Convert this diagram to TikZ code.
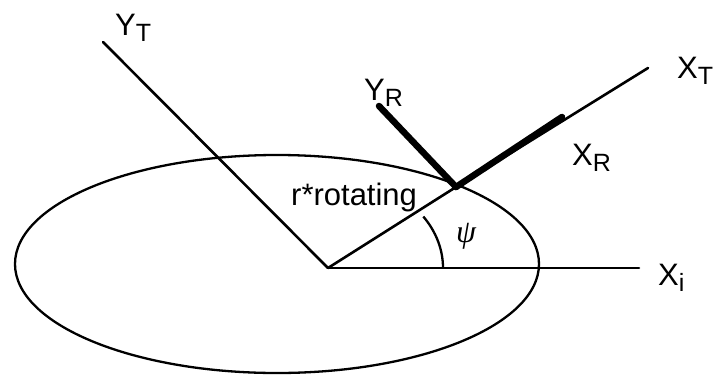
\documentclass[tikz,border=0pt]{standalone}
\usepackage{fontspec}
\setmainfont{Liberation Sans}
\newfontfamily\grk{Liberation Serif}
\usetikzlibrary{calc, positioning}

\tikzset{
  axis/.style={line width=2.6pt, line cap=round},
  rotor/.style={line width=6.5pt, line cap=round},
  lbl/.style={inner sep=0pt, anchor=base west, font=\fontsize{31}{31}\selectfont}
}
\newcommand{\ax}[2]{#1\raisebox{-6pt}{\fontsize{25}{25}\selectfont #2}}

\begin{document}
\begin{tikzpicture}[x=1pt, y=-1pt]
\useasboundingbox (0,0) rectangle (717,375);

\coordinate (O) at (328,268);
\coordinate (P) at (456,187);
\coordinate (C) at (277,264);
\coordinate (YTend) at (103,42);
\coordinate (XTend) at (648,68);
\coordinate (XRend) at (562,117);
\coordinate (YRend) at (379,106);
\coordinate (Xiend) at (639,268);

% disk
\draw[line width=2.3pt] (C) ellipse [x radius=262, y radius=109];

% fixed and rotating axes
\draw[axis] (O) -- (Xiend);
\draw[axis] (O) -- (YTend);
\draw[axis] (O) -- (P) -- (XTend);
\draw[rotor] (P) -- (XRend);
\draw[rotor] (P) -- (YRend);

% angle
\draw[line width=2.3pt] ($(O)+(115,0)$) arc [start angle=0, end angle=-34, x radius=115, y radius=92];

\node[lbl] (YT) at (115,35) {\ax{Y}{T}};
\node[lbl] (YR) at (364,100) {\ax{Y}{R}};
\node[lbl] (XT) at (677,78) {\ax{X}{T}};
\node[lbl] (XR) at (572,165) {\ax{X}{R}};
\node[lbl] (Xi) at (658,285) {\ax{X}{i}};
\node[lbl] (r) at (291,205) {r*rotating};
\node[inner sep=0pt, font=\grk\itshape\fontsize{32}{32}\selectfont] (psi) at (466,236) {ψ};

\end{tikzpicture}
\end{document}
